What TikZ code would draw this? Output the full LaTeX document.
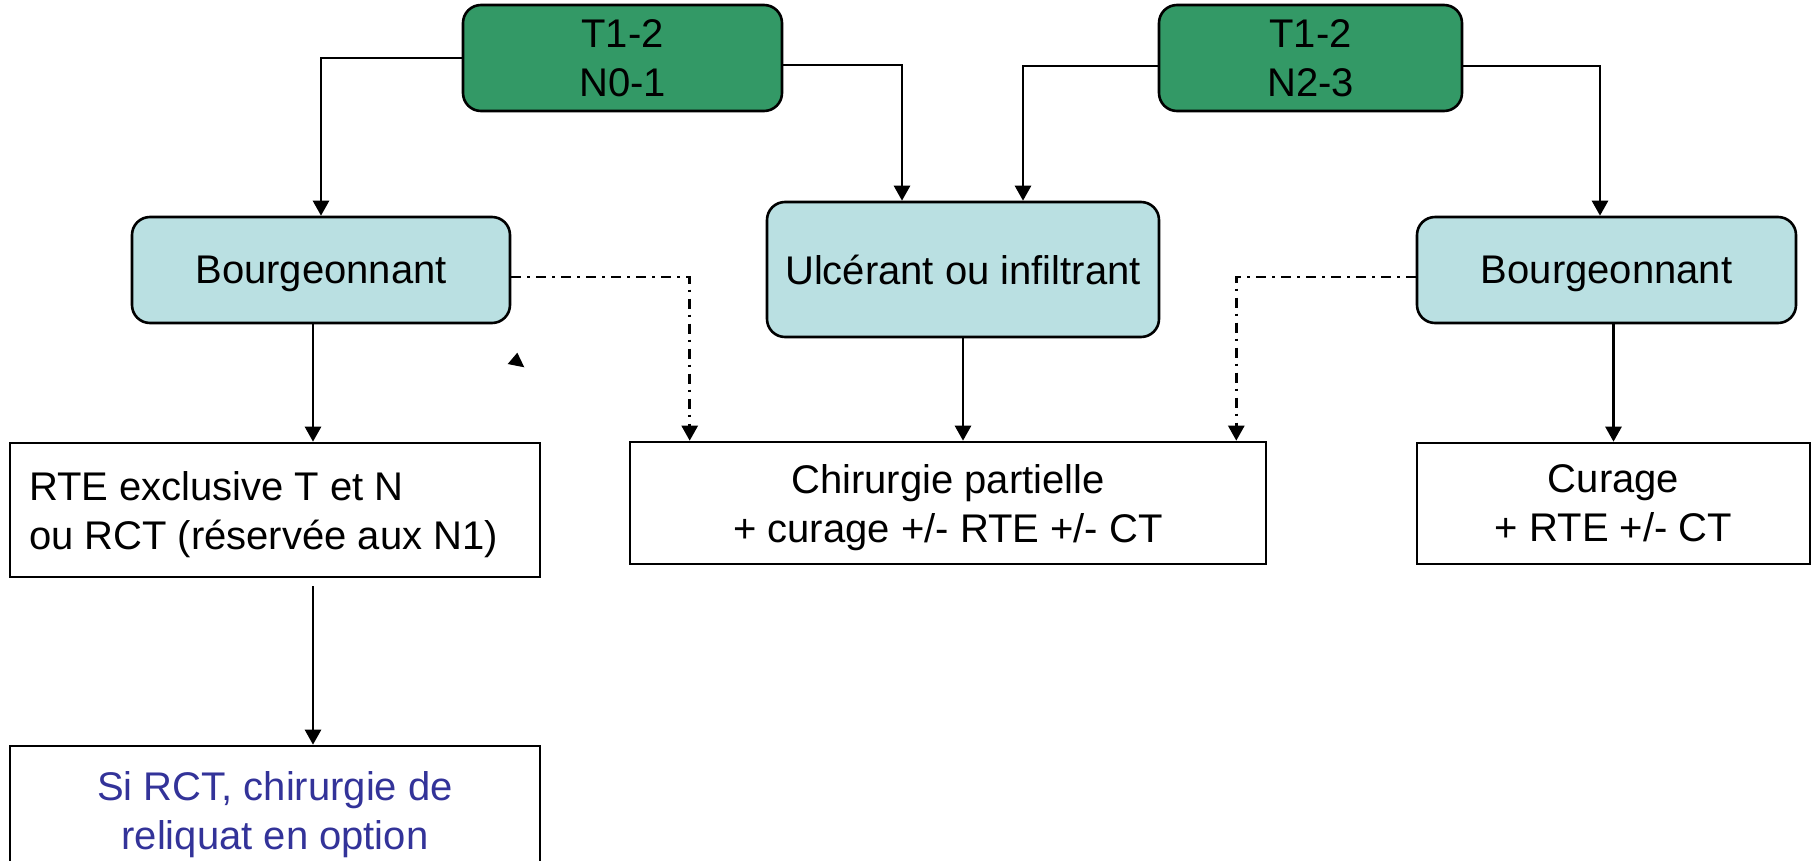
\documentclass[tikz,border=0pt]{standalone}
\usepackage{fontspec}
\setmainfont{Liberation Sans}
\usetikzlibrary{arrows.meta,calc}
\definecolor{stagegreen}{RGB}{51,153,102}
\definecolor{typeblue}{RGB}{186,224,226}
\definecolor{notetext}{RGB}{51,51,153}
\begin{document}
\begin{tikzpicture}[x=1pt,y=-1pt,
  every node/.style={font=\fontsize{40}{49}\selectfont, inner sep=0pt, line width=2.6pt, draw=black},
  stage/.style={fill=stagegreen, rounded corners=18pt, align=center},
  typebox/.style={fill=typeblue, rounded corners=18pt, align=center, text depth=0pt},
  treat/.style={fill=white, align=center},
  bare/.style={draw=none, fill=none},
  link/.style={line width=2.6pt, -{Triangle[width=16pt,length=15pt]}},
  option/.style={link, dash pattern=on 10pt off 6pt on 2.5pt off 6.5pt}]

\useasboundingbox (0,0) rectangle (1816,860);
\clip (0,0) rectangle (1816,860);

% T/N stages
\node[stage, minimum width=319pt, minimum height=106pt] (g1) at (622.5,58) {T1-2\\N0-1};
\node[stage, minimum width=303pt, minimum height=106pt] (g2) at (1310.5,58) {T1-2\\N2-3};

% tumour aspect
\node[typebox, minimum width=378pt, minimum height=106pt] (bl) at (321,270) {Bourgeonnant};
\node[typebox, minimum width=392pt, minimum height=135pt] (ul) at (963,269.5) {Ulcérant ou infiltrant};
\node[typebox, minimum width=379pt, minimum height=106pt] (br) at (1606.5,270) {Bourgeonnant};

% treatments
\node[treat, minimum width=530pt, minimum height=134pt] (rte) at (275,510) {};
\node[bare, align=left, text depth=0pt, anchor=west] (rtetext) at ([xshift=19pt]rte.west)
  {RTE exclusive T et N\\ou RCT (réservée aux N1)};
\node[treat, text depth=0pt, minimum width=636pt, minimum height=122pt] (ch) at (948,503)
  {Chirurgie partielle\\+ curage +/- RTE +/- CT};
\node[treat, minimum width=393pt, minimum height=121pt] (cu) at (1613.5,503.5)
  {Curage\\+ RTE +/- CT};
\node[treat, text=notetext, minimum width=530pt, minimum height=137pt] (si) at (275,814.5)
  {Si RCT, chirurgie de\\reliquat en option};

% main flow
\draw[link] (g1.west) -| (bl.north);
\draw[link] ([yshift=-7pt]g1.east) -| ([xshift=-61pt]ul.north);
\draw[link] ([yshift=-8pt]g2.west) -| ([xshift=60pt]ul.north);
\draw[link] ([yshift=-8pt]g2.east) -| ([xshift=-6.5pt]br.north);

\draw[link] ([xshift=-8pt]bl.south) -- ([xshift=-8pt]bl.south |- rte.north);
\coordinate (rtefoot) at ($(rte.south)+(38,8)$);
\draw[link] (rtefoot) -- (rtefoot |- si.north);
\draw[link] (ul.south) -- (ul.south |- ch.north);
\draw[link] (br.south -| cu.north) -- (cu.north);

% alternative routes
\draw[option] ([yshift=-7pt]bl.east) -| ($(ch.north west)+(61,0)$);
\draw[option] ([yshift=-7pt]br.west) -| ($(ch.north east)+(-31,0)$);

% loose arrowhead
\fill (517.3,352.7) -- (507.7,364) -- (524.3,367.3) -- cycle;
\end{tikzpicture}
\end{document}
